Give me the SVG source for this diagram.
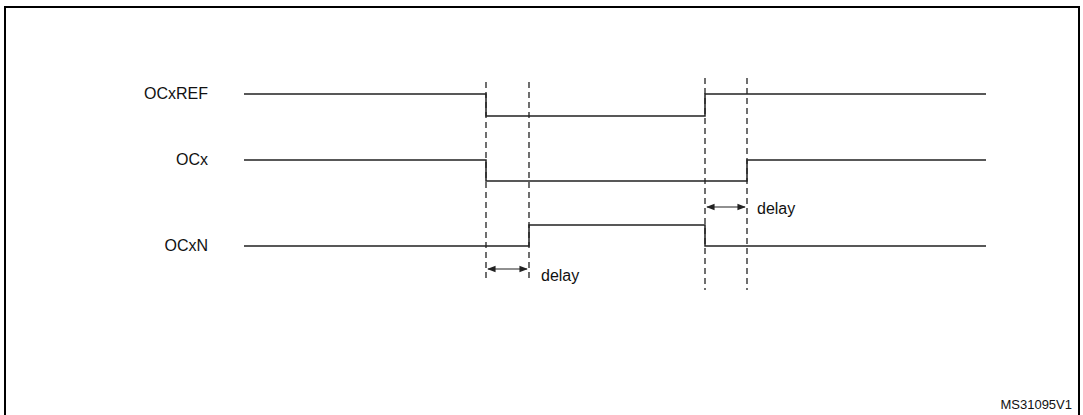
<svg xmlns="http://www.w3.org/2000/svg" width="1083" height="415" viewBox="0 0 1083 415">
<style>
.w{fill:none;stroke:#222;stroke-width:1.5}
.d{stroke:#222;stroke-width:1.3;stroke-dasharray:6,4}
.a{stroke:#222;stroke-width:1.2;marker-start:url(#ah);marker-end:url(#ah)}
text{font-family:"Liberation Sans",Arial,sans-serif;font-size:16px;fill:#111}
</style>
<defs><marker id="ah" viewBox="0 0 10 10" refX="9" refY="5" markerWidth="7" markerHeight="7" orient="auto-start-reverse"><path d="M0,1 L10,5 L0,9 z" fill="#222"/></marker></defs>
<rect x="5" y="7" width="1074" height="412" fill="#fff" stroke="#000" stroke-width="2"/>
<g id="connectors">
<line class="d" x1="486" y1="82" x2="486" y2="280"/>
<line class="d" x1="529" y1="82" x2="529" y2="280"/>
<line class="d" x1="705" y1="78" x2="705" y2="290"/>
<line class="d" x1="747" y1="78" x2="747" y2="290"/>
<line class="a" x1="488" y1="269" x2="527" y2="269"/>
<line class="a" x1="707" y1="207" x2="745" y2="207"/>
</g>
<g id="ocxref"><text x="208" y="99" text-anchor="end">OCxREF</text><polyline class="w" points="244,94 486,94 486,116 705,116 705,94 986,94"/></g>
<g id="ocx"><text x="208" y="165" text-anchor="end">OCx</text><polyline class="w" points="244,160 486,160 486,181 747,181 747,160 986,160"/></g>
<g id="ocxn"><text x="208" y="251" text-anchor="end">OCxN</text><polyline class="w" points="244,246 529,246 529,225 705,225 705,246 986,246"/></g>
<text x="757" y="214">delay</text>
<text x="541" y="281">delay</text>
<text x="1072" y="409" text-anchor="end" style="font-size:13px">MS31095V1</text>
</svg>
